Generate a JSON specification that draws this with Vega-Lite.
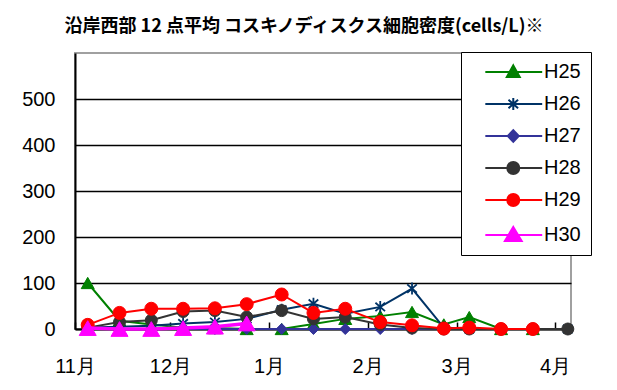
{
  "$schema": "https://vega.github.io/schema/vega-lite/v6.json",
  "width": 496,
  "height": 276,
  "autosize": "none",
  "padding": {"left": 75, "top": 53, "right": 46, "bottom": 61},
  "background": "white",
  "title": {
    "text": "沿岸西部 12 点平均 コスキノディスクス細胞密度(cells/L)※",
    "font": "Noto Sans CJK JP",
    "fontSize": 18,
    "fontWeight": "bold",
    "color": "black",
    "anchor": "middle",
    "frame": "group",
    "dx": -19,
    "offset": 2,
    "baseline": "alphabetic"
  },
  "config": {
    "view": {"stroke": "#a0a0a0", "strokeWidth": 2},
    "axis": {"labelFont": "Liberation Sans", "labelFontSize": 20, "labelColor": "black", "titleFontSize": 12}
  },
  "data": {
    "values": [
      {"series": "H25", "date": "2018-11-05", "value": 100},
      {"series": "H25", "date": "2018-11-15", "value": 18},
      {"series": "H25", "date": "2018-11-25", "value": 10},
      {"series": "H25", "date": "2018-12-05", "value": 3},
      {"series": "H25", "date": "2018-12-15", "value": 2},
      {"series": "H25", "date": "2018-12-25", "value": 0},
      {"series": "H25", "date": "2019-01-05", "value": 0},
      {"series": "H25", "date": "2019-01-15", "value": 11},
      {"series": "H25", "date": "2019-01-25", "value": 22},
      {"series": "H25", "date": "2019-02-05", "value": 28},
      {"series": "H25", "date": "2019-02-15", "value": 37},
      {"series": "H25", "date": "2019-02-25", "value": 10},
      {"series": "H25", "date": "2019-03-05", "value": 26},
      {"series": "H25", "date": "2019-03-15", "value": 0},
      {"series": "H25", "date": "2019-03-25", "value": 0},
      {"series": "H26", "date": "2018-11-05", "value": 3},
      {"series": "H26", "date": "2018-11-15", "value": 5},
      {"series": "H26", "date": "2018-11-25", "value": 7},
      {"series": "H26", "date": "2018-12-05", "value": 12},
      {"series": "H26", "date": "2018-12-15", "value": 15},
      {"series": "H26", "date": "2018-12-25", "value": 22},
      {"series": "H26", "date": "2019-01-05", "value": 42},
      {"series": "H26", "date": "2019-01-15", "value": 55},
      {"series": "H26", "date": "2019-01-25", "value": 33},
      {"series": "H26", "date": "2019-02-05", "value": 48},
      {"series": "H26", "date": "2019-02-15", "value": 88},
      {"series": "H26", "date": "2019-02-25", "value": 3},
      {"series": "H26", "date": "2019-03-05", "value": 0},
      {"series": "H26", "date": "2019-03-15", "value": 0},
      {"series": "H26", "date": "2019-03-25", "value": 0},
      {"series": "H26", "date": "2019-04-05", "value": 0},
      {"series": "H27", "date": "2018-11-05", "value": 2},
      {"series": "H27", "date": "2018-11-15", "value": 0},
      {"series": "H27", "date": "2018-11-25", "value": 0},
      {"series": "H27", "date": "2018-12-05", "value": 0},
      {"series": "H27", "date": "2018-12-15", "value": 0},
      {"series": "H27", "date": "2018-12-25", "value": 0},
      {"series": "H27", "date": "2019-01-05", "value": 0},
      {"series": "H27", "date": "2019-01-15", "value": 0},
      {"series": "H27", "date": "2019-01-25", "value": 0},
      {"series": "H27", "date": "2019-02-05", "value": 0},
      {"series": "H27", "date": "2019-02-15", "value": 0},
      {"series": "H27", "date": "2019-02-25", "value": 0},
      {"series": "H27", "date": "2019-03-05", "value": 0},
      {"series": "H27", "date": "2019-03-15", "value": 0},
      {"series": "H27", "date": "2019-03-25", "value": 0},
      {"series": "H27", "date": "2019-04-05", "value": 0},
      {"series": "H28", "date": "2018-11-05", "value": 3},
      {"series": "H28", "date": "2018-11-15", "value": 15},
      {"series": "H28", "date": "2018-11-25", "value": 19},
      {"series": "H28", "date": "2018-12-05", "value": 38},
      {"series": "H28", "date": "2018-12-15", "value": 40},
      {"series": "H28", "date": "2018-12-25", "value": 26},
      {"series": "H28", "date": "2019-01-05", "value": 40},
      {"series": "H28", "date": "2019-01-15", "value": 22},
      {"series": "H28", "date": "2019-01-25", "value": 26},
      {"series": "H28", "date": "2019-02-05", "value": 10},
      {"series": "H28", "date": "2019-02-15", "value": 2},
      {"series": "H28", "date": "2019-02-25", "value": 0},
      {"series": "H28", "date": "2019-03-05", "value": 0},
      {"series": "H28", "date": "2019-03-15", "value": 0},
      {"series": "H28", "date": "2019-03-25", "value": 0},
      {"series": "H28", "date": "2019-04-05", "value": 0},
      {"series": "H29", "date": "2018-11-05", "value": 9},
      {"series": "H29", "date": "2018-11-15", "value": 35},
      {"series": "H29", "date": "2018-11-25", "value": 44},
      {"series": "H29", "date": "2018-12-05", "value": 44},
      {"series": "H29", "date": "2018-12-15", "value": 45},
      {"series": "H29", "date": "2018-12-25", "value": 54},
      {"series": "H29", "date": "2019-01-05", "value": 75},
      {"series": "H29", "date": "2019-01-15", "value": 35},
      {"series": "H29", "date": "2019-01-25", "value": 44},
      {"series": "H29", "date": "2019-02-05", "value": 15},
      {"series": "H29", "date": "2019-02-15", "value": 8},
      {"series": "H29", "date": "2019-02-25", "value": 1},
      {"series": "H29", "date": "2019-03-05", "value": 3},
      {"series": "H29", "date": "2019-03-15", "value": 0},
      {"series": "H29", "date": "2019-03-25", "value": 0},
      {"series": "H30", "date": "2018-11-05", "value": 2},
      {"series": "H30", "date": "2018-11-15", "value": 0},
      {"series": "H30", "date": "2018-11-25", "value": 0},
      {"series": "H30", "date": "2018-12-05", "value": 2},
      {"series": "H30", "date": "2018-12-15", "value": 5},
      {"series": "H30", "date": "2018-12-25", "value": 12}
    ]
  },
  "encoding": {
    "x": {
      "field": "date",
      "type": "temporal",
      "scale": {
        "type": "utc",
        "domain": [
          {"year": 2018, "month": 11, "date": 1, "utc": true},
          {"year": 2019, "month": 4, "date": 6, "utc": true}
        ]
      },
      "axis": {
        "title": null,
        "format": "%-m月",
        "values": [
          {"year": 2018, "month": 11, "date": 1, "utc": true},
          {"year": 2018, "month": 12, "date": 1, "utc": true},
          {"year": 2019, "month": 1, "date": 1, "utc": true},
          {"year": 2019, "month": 2, "date": 1, "utc": true},
          {"year": 2019, "month": 3, "date": 1, "utc": true},
          {"year": 2019, "month": 4, "date": 1, "utc": true}
        ],
        "grid": false,
        "domainColor": "black",
        "domainWidth": 2,
        "tickColor": "black",
        "tickWidth": 1.5,
        "tickSize": -7,
        "labelPadding": 34,
        "labelFlush": false,
        "labelOverlap": false,
        "labelBound": false
      }
    },
    "y": {
      "field": "value",
      "type": "quantitative",
      "scale": {"domain": [0, 600], "nice": false},
      "axis": {
        "title": null,
        "values": [0, 100, 200, 300, 400, 500],
        "grid": true,
        "gridColor": "black",
        "gridWidth": 1.5,
        "gridOpacity": 1,
        "ticks": false,
        "domainColor": "black",
        "domainWidth": 2,
        "labelPadding": 20
      }
    }
  },
  "layer": [
    {
      "transform": [{"filter": {"field": "series", "equal": "H25"}}],
      "mark": {"type": "line", "color": "#008000", "strokeWidth": 2,
        "point": {"shape": "triangle-up", "size": 169, "filled": true, "fill": "#008000", "stroke": "#008000", "strokeWidth": 1, "opacity": 1}}
    },
    {
      "transform": [{"filter": {"field": "series", "equal": "H26"}}],
      "mark": {"type": "line", "color": "#003366", "strokeWidth": 2,
        "point": {"shape": "M0,-1V1M-0.8,-0.7L0.8,0.7M-0.8,0.7L0.8,-0.7", "size": 144, "filled": false, "fill": "transparent", "stroke": "#003366", "strokeWidth": 1.8, "opacity": 1}}
    },
    {
      "transform": [{"filter": {"field": "series", "equal": "H27"}}],
      "mark": {"type": "line", "color": "#333399", "strokeWidth": 2,
        "point": {"shape": "diamond", "size": 121, "filled": true, "fill": "#333399", "stroke": "#333399", "strokeWidth": 1, "opacity": 1}}
    },
    {
      "transform": [{"filter": {"field": "series", "equal": "H28"}}],
      "mark": {"type": "line", "color": "#333333", "strokeWidth": 2,
        "point": {"shape": "circle", "size": 144, "filled": true, "fill": "#333333", "stroke": "#333333", "strokeWidth": 1, "opacity": 1}}
    },
    {
      "transform": [{"filter": {"field": "series", "equal": "H29"}}],
      "mark": {"type": "line", "color": "#ff0000", "strokeWidth": 2,
        "point": {"shape": "circle", "size": 169, "filled": true, "fill": "#ff0000", "stroke": "#ff0000", "strokeWidth": 1, "opacity": 1}}
    },
    {
      "transform": [{"filter": {"field": "series", "equal": "H30"}}],
      "mark": {"type": "line", "color": "#ff00ff", "strokeWidth": 3.5,
        "point": {"shape": "triangle-up", "size": 289, "filled": true, "fill": "#ff00ff", "stroke": "#ff00ff", "strokeWidth": 1, "opacity": 1}}
    },
    {
      "mark": {"type": "point", "filled": true, "opacity": 0},
      "encoding": {
        "color": {
          "field": "series",
          "type": "nominal",
          "scale": {
            "domain": ["H25", "H26", "H27", "H28", "H29", "H30"],
            "range": ["#008000", "#003366", "#333399", "#333333", "#ff0000", "#ff00ff"]
          },
          "legend": {
            "title": null,
            "orient": "none",
            "legendX": 386,
            "legendY": -1,
            "padding": 10,
            "strokeColor": "black",
            "fillColor": "white",
            "symbolSize": 144,
            "symbolStrokeWidth": 2,
            "symbolOpacity": 1,
            "labelFont": "Liberation Sans",
            "labelFontSize": 20,
            "labelColor": "black",
            "labelOffset": 53,
            "rowPadding": 12,
            "labelExpr": "datum.label + '\u00a0\u00a0'"
          }
        },
        "shape": {
          "field": "series",
          "type": "nominal",
          "scale": {
            "domain": ["H25", "H26", "H27", "H28", "H29", "H30"],
            "range": [
              "M0.72,0H10.2M5.38,-1.1L6.46,0.85L4.3,0.85Z",
              "M0.72,0H10.2M5.38,-1V1M4.58,-0.7L6.18,0.7M4.58,0.7L6.18,-0.7",
              "M0.72,0H10.2M5.38,-0.95L6.3,0L5.38,0.95L4.46,0Z",
              "M0.72,0H10.2M4.38,0A1,1 0 1,0 6.38,0A1,1 0 1,0 4.38,0Z",
              "M0.72,0H10.2M4.38,0A1,1 0 1,0 6.38,0A1,1 0 1,0 4.38,0Z",
              "M0.72,0H10.2M5.38,-1.35L6.78,1L3.98,1Z"
            ]
          },
          "legend": {
            "title": null,
            "orient": "none",
            "legendX": 386,
            "legendY": -1,
            "padding": 10,
            "strokeColor": "black",
            "fillColor": "white",
            "symbolSize": 144,
            "symbolStrokeWidth": 2,
            "symbolOpacity": 1,
            "labelFont": "Liberation Sans",
            "labelFontSize": 20,
            "labelColor": "black",
            "labelOffset": 53,
            "rowPadding": 12,
            "labelExpr": "datum.label + '\u00a0\u00a0'"
          }
        },
        "stroke": {
          "field": "series",
          "type": "nominal",
          "scale": {
            "domain": ["H25", "H26", "H27", "H28", "H29", "H30"],
            "range": ["#008000", "#003366", "#333399", "#333333", "#ff0000", "#ff00ff"]
          },
          "legend": {
            "title": null,
            "orient": "none",
            "legendX": 386,
            "legendY": -1,
            "padding": 10,
            "strokeColor": "black",
            "fillColor": "white",
            "symbolSize": 144,
            "symbolStrokeWidth": 2,
            "symbolOpacity": 1,
            "labelFont": "Liberation Sans",
            "labelFontSize": 20,
            "labelColor": "black",
            "labelOffset": 53,
            "rowPadding": 12,
            "labelExpr": "datum.label + '\u00a0\u00a0'"
          }
        }
      }
    }
  ]
}
